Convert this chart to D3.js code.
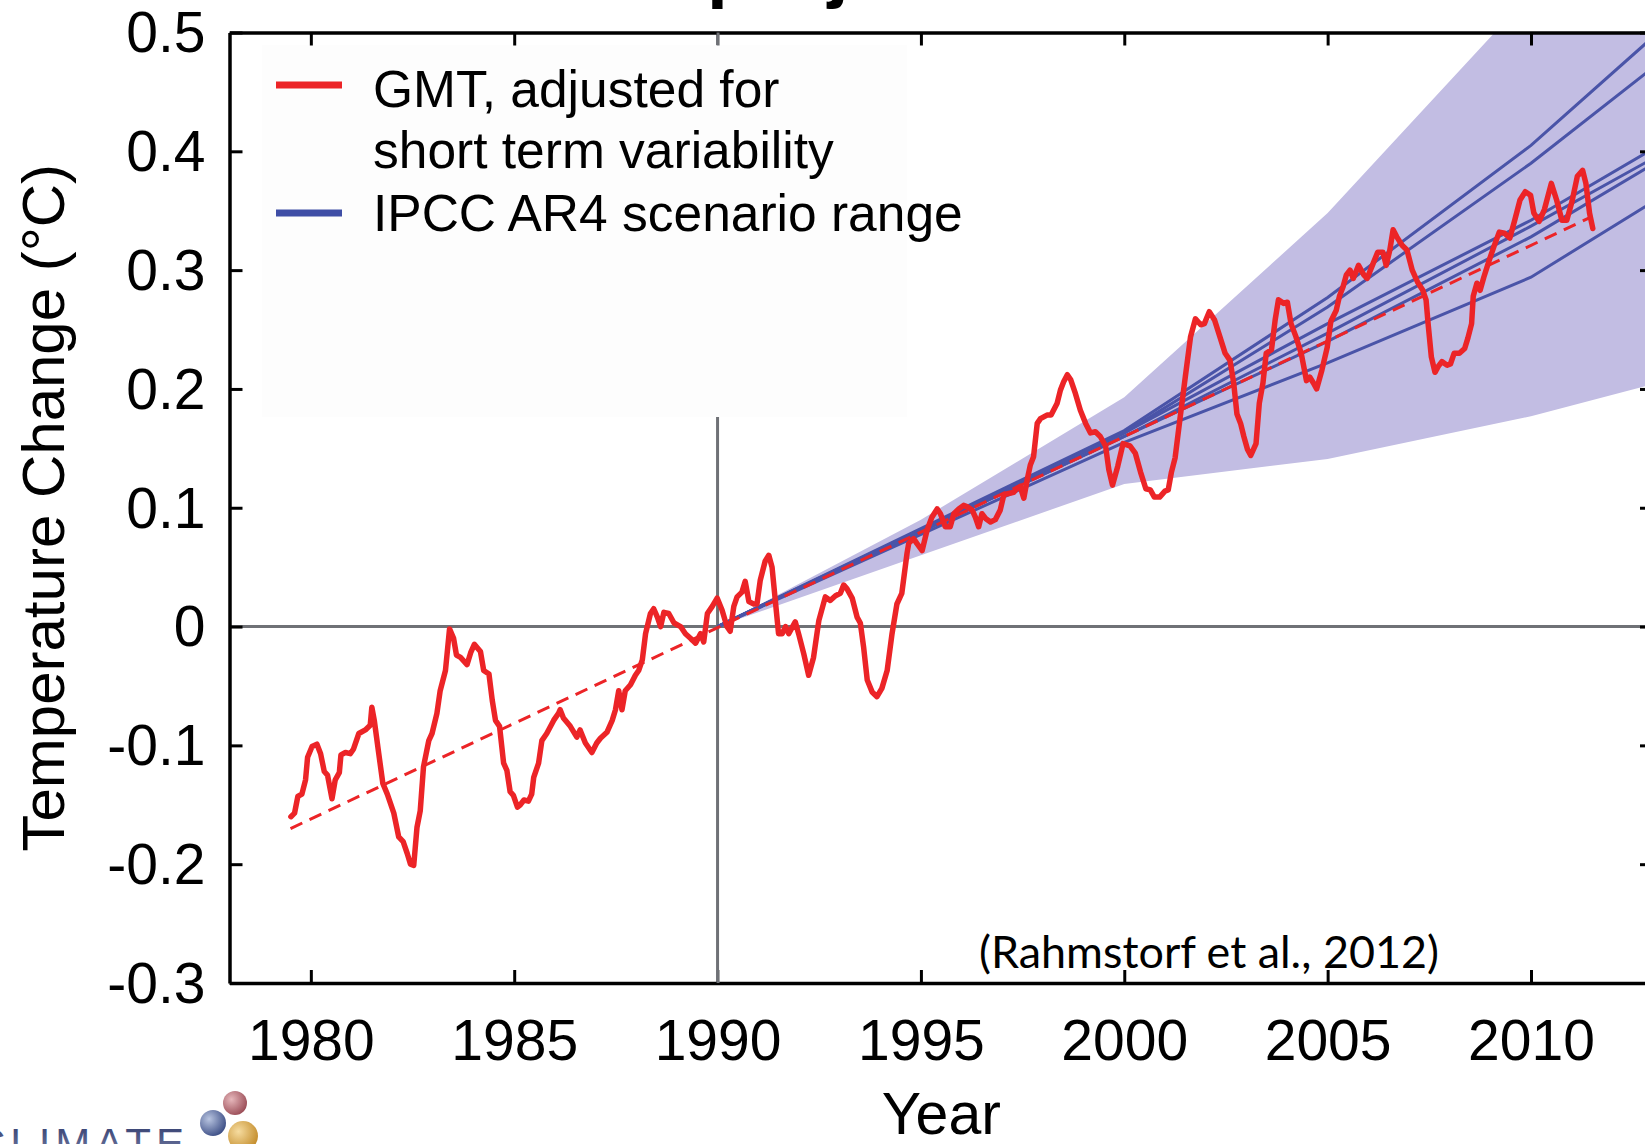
<!DOCTYPE html>
<html>
<head>
<meta charset="utf-8">
<script src="https://cdn.jsdelivr.net/npm/d3@7"></script>
<style>
  html, body { margin: 0; padding: 0; background: #ffffff; }
  svg { display: block; font-family: "Liberation Sans", Arial, Helvetica, sans-serif; }
</style>
</head>
<body>
<script>
// ---- data ---------------------------------------------------------------
const yearTicks = [1980, 1985, 1990, 1995, 2000, 2005, 2010];
const tempTicks = [-0.3, -0.2, -0.1, 0, 0.1, 0.2, 0.3, 0.4, 0.5];

// Global mean temperature, adjusted for short term variability [year, °C]
const gmtAdjusted = [
  [1979.51,-0.160],[1979.60,-0.157],[1979.68,-0.143],[1979.78,-0.141],[1979.87,-0.129],
  [1979.92,-0.110],[1980.03,-0.101],[1980.15,-0.099],[1980.24,-0.107],[1980.33,-0.122],
  [1980.41,-0.125],[1980.52,-0.145],[1980.60,-0.129],[1980.70,-0.123],[1980.74,-0.108],
  [1980.85,-0.106],[1980.97,-0.107],[1981.05,-0.103],[1981.18,-0.090],[1981.34,-0.087],
  [1981.46,-0.083],[1981.50,-0.068],[1981.56,-0.079],[1981.67,-0.107],[1981.77,-0.132],
  [1981.88,-0.141],[1982.04,-0.157],[1982.16,-0.177],[1982.27,-0.181],[1982.37,-0.191],
  [1982.45,-0.200],[1982.53,-0.201],[1982.61,-0.169],[1982.69,-0.155],[1982.77,-0.118],
  [1982.90,-0.096],[1982.98,-0.090],[1983.10,-0.073],[1983.18,-0.054],[1983.31,-0.037],
  [1983.41,-0.002],[1983.51,-0.010],[1983.58,-0.024],[1983.68,-0.026],[1983.84,-0.032],
  [1983.93,-0.022],[1984.02,-0.015],[1984.17,-0.021],[1984.25,-0.037],[1984.38,-0.040],
  [1984.46,-0.062],[1984.54,-0.079],[1984.64,-0.084],[1984.74,-0.115],[1984.82,-0.121],
  [1984.90,-0.139],[1984.98,-0.142],[1985.08,-0.152],[1985.15,-0.150],[1985.24,-0.146],
  [1985.35,-0.147],[1985.43,-0.141],[1985.48,-0.127],[1985.60,-0.115],[1985.68,-0.096],
  [1985.80,-0.090],[1985.97,-0.079],[1986.09,-0.073],[1986.13,-0.070],[1986.21,-0.077],
  [1986.38,-0.084],[1986.54,-0.093],[1986.62,-0.087],[1986.75,-0.098],[1986.91,-0.106],
  [1987.03,-0.098],[1987.12,-0.094],[1987.28,-0.089],[1987.41,-0.079],[1987.49,-0.070],
  [1987.57,-0.054],[1987.65,-0.070],[1987.73,-0.054],[1987.86,-0.049],[1987.98,-0.041],
  [1988.06,-0.037],[1988.15,-0.028],[1988.23,-0.006],[1988.35,0.011],[1988.43,0.015],
  [1988.52,0.008],[1988.60,0.000],[1988.68,0.012],[1988.80,0.011],[1988.93,0.003],
  [1989.09,0.000],[1989.21,-0.006],[1989.34,-0.010],[1989.46,-0.014],[1989.58,-0.006],
  [1989.66,-0.013],[1989.75,0.011],[1989.87,0.017],[1989.99,0.024],[1990.11,0.014],
  [1990.23,0.000],[1990.31,-0.004],[1990.40,0.017],[1990.48,0.025],[1990.60,0.029],
  [1990.68,0.038],[1990.77,0.021],[1990.89,0.019],[1990.97,0.019],[1991.05,0.039],
  [1991.17,0.055],[1991.26,0.060],[1991.34,0.050],[1991.42,0.022],[1991.50,-0.006],
  [1991.59,-0.006],[1991.67,0.000],[1991.75,-0.006],[1991.91,0.004],[1992.00,-0.007],
  [1992.12,-0.023],[1992.24,-0.041],[1992.36,-0.026],[1992.49,0.005],[1992.65,0.025],
  [1992.77,0.022],[1992.90,0.026],[1993.02,0.028],[1993.10,0.035],[1993.18,0.032],
  [1993.31,0.024],[1993.43,0.008],[1993.51,0.003],[1993.59,-0.017],[1993.68,-0.045],
  [1993.80,-0.055],[1993.92,-0.059],[1994.04,-0.052],[1994.17,-0.037],[1994.29,-0.006],
  [1994.41,0.019],[1994.53,0.028],[1994.66,0.062],[1994.70,0.070],[1994.82,0.074],
  [1994.90,0.070],[1995.03,0.064],[1995.15,0.081],[1995.27,0.092],[1995.40,0.099],
  [1995.48,0.095],[1995.60,0.084],[1995.72,0.084],[1995.81,0.095],[1995.93,0.099],
  [1996.05,0.102],[1996.13,0.101],[1996.26,0.098],[1996.34,0.092],[1996.42,0.084],
  [1996.50,0.095],[1996.59,0.091],[1996.71,0.088],[1996.83,0.090],[1996.95,0.098],
  [1997.04,0.111],[1997.16,0.112],[1997.28,0.113],[1997.36,0.116],[1997.44,0.118],
  [1997.53,0.108],[1997.61,0.123],[1997.69,0.136],[1997.77,0.143],[1997.86,0.171],
  [1997.94,0.175],[1998.10,0.178],[1998.20,0.178],[1998.35,0.188],[1998.43,0.199],
  [1998.51,0.206],[1998.60,0.212],[1998.68,0.208],[1998.80,0.196],[1998.92,0.182],
  [1999.05,0.171],[1999.17,0.163],[1999.29,0.164],[1999.41,0.160],[1999.54,0.152],
  [1999.62,0.132],[1999.71,0.119],[1999.84,0.135],[1999.97,0.154],[2000.14,0.152],
  [2000.27,0.146],[2000.40,0.130],[2000.53,0.116],[2000.64,0.115],[2000.74,0.109],
  [2000.87,0.109],[2001.00,0.114],[2001.08,0.115],[2001.16,0.130],[2001.25,0.142],
  [2001.37,0.175],[2001.50,0.210],[2001.63,0.244],[2001.75,0.259],[2001.88,0.254],
  [2001.97,0.255],[2002.09,0.265],[2002.22,0.258],[2002.35,0.244],[2002.48,0.230],
  [2002.60,0.224],[2002.69,0.205],[2002.77,0.179],[2002.86,0.171],[2002.94,0.160],
  [2003.03,0.149],[2003.11,0.144],[2003.24,0.154],[2003.32,0.188],[2003.41,0.205],
  [2003.49,0.230],[2003.62,0.233],[2003.71,0.258],[2003.79,0.275],[2003.92,0.272],
  [2004.01,0.273],[2004.10,0.255],[2004.22,0.244],[2004.35,0.230],[2004.48,0.207],
  [2004.56,0.210],[2004.65,0.205],[2004.73,0.200],[2004.86,0.216],[2004.99,0.235],
  [2005.08,0.257],[2005.21,0.266],[2005.29,0.278],[2005.38,0.286],[2005.46,0.296],
  [2005.55,0.300],[2005.63,0.293],[2005.76,0.304],[2005.89,0.296],[2005.97,0.293],
  [2006.10,0.304],[2006.23,0.315],[2006.36,0.315],[2006.44,0.304],[2006.53,0.317],
  [2006.61,0.334],[2006.70,0.328],[2006.83,0.321],[2006.95,0.317],[2007.08,0.300],
  [2007.21,0.290],[2007.34,0.283],[2007.42,0.275],[2007.47,0.255],[2007.55,0.227],
  [2007.64,0.214],[2007.72,0.219],[2007.81,0.223],[2007.94,0.220],[2008.02,0.221],
  [2008.11,0.230],[2008.24,0.230],[2008.37,0.234],[2008.45,0.243],[2008.54,0.255],
  [2008.58,0.278],[2008.67,0.289],[2008.75,0.283],[2008.84,0.294],[2008.97,0.308],
  [2009.09,0.320],[2009.22,0.332],[2009.35,0.331],[2009.48,0.327],[2009.60,0.342],
  [2009.73,0.359],[2009.86,0.366],[2009.99,0.363],[2010.07,0.348],[2010.20,0.341],
  [2010.33,0.351],[2010.50,0.373],[2010.63,0.359],[2010.76,0.342],[2010.88,0.342],
  [2011.01,0.358],[2011.14,0.379],[2011.27,0.384],[2011.35,0.373],[2011.44,0.348],
  [2011.52,0.335]
];

// Linear trend of the adjusted series
const gmtTrend = [[1979.5, -0.170], [2011.5, 0.345]];

// IPCC AR4 scenario range (shaded envelope)
const rangeYears = [1990, 1995, 2000, 2005, 2010, 2015];
const rangeLow   = [0, 0.060, 0.120, 0.141, 0.177, 0.222];
const rangeHigh  = [0, 0.090, 0.193, 0.348, 0.533, 0.720];

// Individual scenario projections
const scenarioYears = [1990, 2000, 2005, 2010, 2015];
const scenarioA = [0, 0.165, 0.277, 0.405, 0.557];
const scenarioB = [0, 0.163, 0.269, 0.390, 0.524];
const scenarioC = [0, 0.163, 0.255, 0.342, 0.442];
const scenarioD = [0, 0.160, 0.247, 0.337, 0.432];
const scenarioE = [0, 0.160, 0.240, 0.328, 0.430];
const scenarioF = [0, 0.155, 0.222, 0.294, 0.400];

const legendLabels = ["GMT, adjusted for", "short term variability", "IPCC AR4 scenario range"];

// ---- layout -------------------------------------------------------------
const W = 1645, H = 1144;
const RED = "#ec2427", BLUE = "#4a54a8", BAND = "#c2bde3", GREY = "#6f7176";

const x = d3.scaleLinear().domain([1978, 2013]).range([229.5, 1653]);
const y = d3.scaleLinear().domain([-0.3, 0.5]).range([983, 32.5]);

const svg = d3.select("body").append("svg")
  .attr("width", W).attr("height", H).attr("viewBox", `0 0 ${W} ${H}`);

const defs = svg.append("defs");
defs.append("clipPath").attr("id", "plot-clip")
  .append("rect")
  .attr("x", x.range()[0]).attr("y", y.range()[1])
  .attr("width", x.range()[1] - x.range()[0])
  .attr("height", y.range()[0] - y.range()[1]);

// title (runs off the top edge, only descenders remain)
svg.append("text")
  .attr("x", 707).attr("y", -6)
  .attr("font-size", 75).attr("font-weight", "bold").attr("fill", "#000")
  .text("projections");

const plot = svg.append("g").attr("clip-path", "url(#plot-clip)");

// scenario envelope
const band = d3.area()
  .x((d, i) => x(rangeYears[i]))
  .y0((d, i) => y(rangeLow[i]))
  .y1((d, i) => y(rangeHigh[i]));
plot.append("path").datum(rangeYears).attr("d", band).attr("fill", BAND);

// reference lines at 0 °C and 1990
plot.append("line")
  .attr("x1", x(1978)).attr("x2", x(2013))
  .attr("y1", y(0)).attr("y2", y(0))
  .attr("stroke", GREY).attr("stroke-width", 3);
plot.append("line")
  .attr("x1", x(1990)).attr("x2", x(1990))
  .attr("y1", y(-0.3)).attr("y2", y(0.5))
  .attr("stroke", GREY).attr("stroke-width", 3);

// legend panel
svg.append("rect")
  .attr("x", 262).attr("y", 45).attr("width", 645).attr("height", 372)
  .attr("fill", "#fdfdfd");

// scenario lines
const scenLine = d3.line().x((d, i) => x(scenarioYears[i])).y(d => y(d));
[scenarioA, scenarioB, scenarioC, scenarioD, scenarioE, scenarioF].forEach(s => {
  plot.append("path").datum(s).attr("d", scenLine)
    .attr("fill", "none").attr("stroke", BLUE).attr("stroke-width", 3);
});

// trend and adjusted GMT
const line = d3.line().x(d => x(d[0])).y(d => y(d[1]));
plot.append("path").datum(gmtTrend).attr("d", line)
  .attr("fill", "none").attr("stroke", RED).attr("stroke-width", 3)
  .attr("stroke-dasharray", "13,8");
plot.append("path").datum(gmtAdjusted).attr("d", line)
  .attr("fill", "none").attr("stroke", RED).attr("stroke-width", 5.5)
  .attr("stroke-linejoin", "round").attr("stroke-linecap", "round");

// ---- axes ---------------------------------------------------------------
const fmtTemp = d => (Math.abs(d) < 1e-9 ? "0" : d.toFixed(1));
const TICK = 13;

function styleAxis(g) {
  g.select(".domain").attr("stroke", "#000").attr("stroke-width", 3.5);
  g.selectAll(".tick line").attr("stroke", "#000").attr("stroke-width", 3);
  g.selectAll(".tick text").attr("fill", "#000")
    .attr("font-family", '"Liberation Sans", Arial, Helvetica, sans-serif')
    .attr("font-size", 57);
  g.selectAll(".tick").filter(d => d === 1990).select("line").attr("stroke", GREY);
}

svg.append("g").attr("transform", `translate(0,${y(-0.3)})`)
  .call(d3.axisBottom(x).tickValues(yearTicks).tickFormat(d3.format("d"))
    .tickSizeInner(-TICK).tickSizeOuter(0).tickPadding(36.5))
  .call(styleAxis);

svg.append("g").attr("transform", `translate(0,${y(0.5)})`)
  .call(d3.axisTop(x).tickValues(yearTicks).tickFormat("")
    .tickSizeInner(-TICK).tickSizeOuter(0))
  .call(styleAxis);

svg.append("g").attr("transform", `translate(${x(1978)},0)`)
  .call(d3.axisLeft(y).tickValues(tempTicks).tickFormat(fmtTemp)
    .tickSizeInner(-TICK).tickSizeOuter(0).tickPadding(24))
  .call(styleAxis)
  .selectAll(".tick text").attr("dy", "0.34em");

svg.append("g").attr("transform", `translate(${x(2013)},0)`)
  .call(d3.axisRight(y).tickValues(tempTicks).tickFormat("")
    .tickSizeInner(-TICK).tickSizeOuter(0))
  .call(styleAxis);

// axis titles
svg.append("text")
  .attr("x", (x.range()[0] + x.range()[1]) / 2).attr("y", 1134)
  .attr("text-anchor", "middle").attr("font-size", 59).attr("fill", "#000")
  .text("Year");
svg.append("text")
  .attr("transform", `translate(64,${(y.range()[0] + y.range()[1]) / 2}) rotate(-90)`)
  .attr("text-anchor", "middle").attr("font-size", 60).attr("fill", "#000")
  .text("Temperature Change (°C)");

// ---- legend -------------------------------------------------------------
svg.append("line").attr("x1", 276).attr("x2", 342).attr("y1", 85).attr("y2", 85)
  .attr("stroke", RED).attr("stroke-width", 7);
svg.append("line").attr("x1", 276).attr("x2", 342).attr("y1", 213).attr("y2", 213)
  .attr("stroke", "#3f4ea6").attr("stroke-width", 7);
const legendBaselines = [107, 168, 231];
svg.selectAll("text.legend").data(legendLabels).join("text")
  .attr("class", "legend")
  .attr("x", 373).attr("y", (d, i) => legendBaselines[i])
  .attr("font-size", 51.5).attr("fill", "#000")
  .text(d => d);

// source note
svg.append("text")
  .attr("x", 979).attr("y", 968)
  .attr("font-family", "Lato, 'Open Sans', sans-serif")
  .attr("font-size", 44).attr("fill", "#000")
  .attr("textLength", 460).attr("lengthAdjust", "spacingAndGlyphs")
  .text("(Rahmstorf et al., 2012)");

// ---- logo (bottom-left) -------------------------------------------------
const logo = svg.append("g");
const balls = [
  { cx: 235, cy: 1103, r: 12, c0: "#e6b7bb", c1: "#9b4d57" },
  { cx: 213, cy: 1123, r: 13, c0: "#b8c4e0", c1: "#3d4f86" },
  { cx: 243, cy: 1136, r: 15, c0: "#f6dca0", c1: "#c48d2c" }
];
balls.forEach((b, i) => {
  const g = defs.append("radialGradient").attr("id", "ball" + i)
    .attr("cx", "35%").attr("cy", "35%").attr("r", "70%");
  g.append("stop").attr("offset", "0%").attr("stop-color", b.c0);
  g.append("stop").attr("offset", "100%").attr("stop-color", b.c1);
  logo.append("circle").attr("cx", b.cx).attr("cy", b.cy).attr("r", b.r)
    .attr("fill", `url(#ball${i})`);
});
const tg = defs.append("linearGradient").attr("id", "logoText")
  .attr("x1", "0").attr("x2", "0").attr("y1", "0").attr("y2", "1");
tg.append("stop").attr("offset", "0%").attr("stop-color", "#2c376a");
tg.append("stop").attr("offset", "100%").attr("stop-color", "#8a93b5");
logo.append("text")
  .attr("x", -25).attr("y", 1158)
  .attr("font-size", 42).attr("letter-spacing", 5)
  .attr("fill", "url(#logoText)")
  .text("CLIMATE");
</script>
</body>
</html>
